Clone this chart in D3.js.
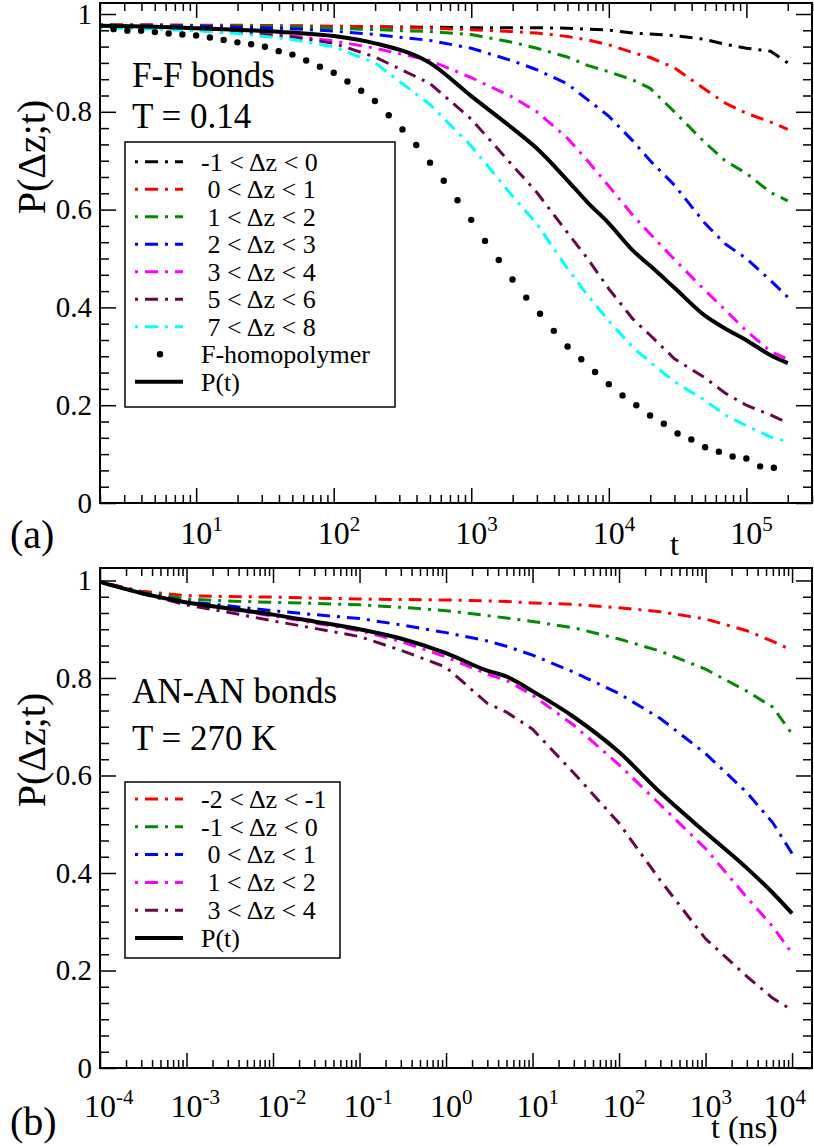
<!DOCTYPE html>
<html>
<head>
<meta charset="utf-8">
<script src="https://cdn.jsdelivr.net/npm/d3@7"></script>
<style>
body { margin: 0; background: #fff; }
</style>
</head>
<body>
<div id="chart"></div>
<script>
// ---- panel (a): F-F bonds, T = 0.14 ----
const tA = [2, 5, 10, 20, 50, 100, 200, 500, 1e3, 2e3, 3e3, 5e3, 7e3, 1e4, 1.5e4, 2e4, 3e4, 5e4, 7e4, 1e5, 1.5e5, 2e5];
const a_m1_0 = [0.976,0.976,0.976,0.975,0.975,0.974,0.974,0.973,0.972,0.972,0.972,0.971,0.969,0.967,0.961,0.959,0.956,0.948,0.938,0.930,0.924,0.900];
const a_0_1  = [0.978,0.978,0.977,0.977,0.976,0.975,0.974,0.971,0.968,0.964,0.961,0.954,0.947,0.937,0.921,0.911,0.890,0.846,0.818,0.797,0.779,0.764];
const a_1_2  = [0.977,0.977,0.976,0.975,0.974,0.971,0.968,0.964,0.958,0.942,0.930,0.912,0.895,0.882,0.865,0.848,0.800,0.737,0.700,0.674,0.635,0.618];
const a_2_3  = [0.977,0.976,0.975,0.973,0.970,0.965,0.958,0.946,0.930,0.904,0.886,0.857,0.825,0.791,0.740,0.700,0.650,0.572,0.530,0.500,0.455,0.421];
const a_3_4  = [0.976,0.975,0.971,0.966,0.955,0.945,0.930,0.905,0.870,0.830,0.800,0.746,0.700,0.648,0.588,0.550,0.498,0.435,0.395,0.352,0.310,0.294];
const a_5_6  = [0.975,0.972,0.968,0.962,0.953,0.940,0.912,0.858,0.785,0.690,0.635,0.553,0.500,0.438,0.376,0.343,0.295,0.256,0.225,0.200,0.180,0.164];
const a_7_8  = [0.972,0.969,0.966,0.960,0.948,0.933,0.900,0.815,0.730,0.627,0.571,0.480,0.425,0.372,0.318,0.288,0.248,0.210,0.180,0.158,0.135,0.125];
const a_Pt   = [0.976,0.974,0.971,0.968,0.962,0.955,0.940,0.900,0.832,0.766,0.725,0.660,0.615,0.572,0.516,0.485,0.440,0.383,0.357,0.333,0.302,0.286];
// F-homopolymer points: log10(t) and value
const homoLogT = [0.4,0.5,0.6,0.7,0.8,0.9,1.0,1.1,1.2,1.3,1.4,1.5,1.6,1.7,1.8,1.9,2.0,2.1,2.2,2.3,2.4,2.5,2.6,2.7,2.8,2.9,3.0,3.1,3.2,3.3,3.4,3.5,3.6,3.7,3.8,3.9,4.0,4.1,4.2,4.3,4.4,4.5,4.6,4.7,4.8,4.9,5.0,5.1,5.2];
const homoP = [0.969,0.966,0.966,0.963,0.960,0.958,0.956,0.952,0.947,0.942,0.938,0.933,0.924,0.917,0.905,0.892,0.880,0.862,0.843,0.822,0.793,0.764,0.732,0.696,0.659,0.619,0.579,0.536,0.497,0.457,0.420,0.387,0.352,0.320,0.294,0.268,0.243,0.220,0.200,0.179,0.162,0.142,0.130,0.114,0.105,0.095,0.091,0.075,0.072];
const namesA = ["-1 < \u0394z < 0", " 0 < \u0394z < 1", " 1 < \u0394z < 2", " 2 < \u0394z < 3", " 3 < \u0394z < 4", " 5 < \u0394z < 6", " 7 < \u0394z < 8"];

// ---- panel (b): AN-AN bonds, T = 270 K ----
const tB = [1e-4, 3e-4, 1e-3, 3e-3, 1e-2, 3e-2, 0.1, 0.3, 1, 3, 5, 10, 30, 100, 300, 1e3, 3e3, 6e3, 1e4];
const b_m2_m1 = [0.997,0.978,0.969,0.967,0.966,0.964,0.962,0.961,0.960,0.958,0.957,0.954,0.951,0.944,0.936,0.921,0.897,0.875,0.857];
const b_m1_0  = [0.997,0.976,0.962,0.958,0.955,0.953,0.950,0.945,0.938,0.928,0.923,0.916,0.903,0.880,0.855,0.818,0.773,0.740,0.685];
const b_0_1   = [0.997,0.975,0.957,0.948,0.938,0.930,0.922,0.909,0.893,0.876,0.865,0.847,0.812,0.768,0.717,0.645,0.565,0.503,0.440];
const b_1_2   = [0.997,0.974,0.953,0.941,0.927,0.913,0.897,0.875,0.843,0.808,0.795,0.765,0.703,0.622,0.540,0.450,0.350,0.290,0.235];
const b_3_4   = [0.997,0.973,0.950,0.935,0.917,0.902,0.885,0.857,0.822,0.748,0.730,0.695,0.605,0.502,0.385,0.265,0.188,0.143,0.119];
const b_Pt    = [0.997,0.974,0.955,0.943,0.930,0.916,0.900,0.881,0.851,0.815,0.803,0.773,0.720,0.648,0.565,0.483,0.410,0.359,0.317];
const namesB = ["-2 < \u0394z < -1", "-1 < \u0394z < 0", " 0 < \u0394z < 1", " 1 < \u0394z < 2", " 3 < \u0394z < 4"];

const colorsA = ["#000000", "#ff0000", "#008b00", "#0000ff", "#ff00ff", "#670748", "#00ffff"];
const colorsB = ["#ff0000", "#008b00", "#0000ff", "#ff00ff", "#670748"];

const svgWidth = 814, svgHeight = 1147;
const svg = d3.select("#chart").append("svg")
  .attr("width", svgWidth).attr("height", svgHeight);

const dashDot = "3,7,13,7";

function txt(g, size) {
  return g.append("text").style("font-family", "Liberation Serif")
    .style("font-size", size + "px").attr("fill", "#000");
}

function drawPanel(p) {
  let g = svg.append("g");
  let x = p.x, y = p.y;
  let [x0, x1] = x.range(), [y0, y1] = y.range();

  // ticks
  let allX = x.ticks();
  let majX = allX.filter(d => Math.abs(Math.log10(d) - Math.round(Math.log10(d))) < 1e-9);
  let minX = allX.filter(d => majX.indexOf(d) < 0);
  let majY = [0, 0.2, 0.4, 0.6, 0.8, 1];
  let minY = d3.range(0, 1.03, 0.2 / 6).filter(d => d < y.domain()[1] && majY.every(m => Math.abs(m - d) > 1e-6));

  let axes = [
    [d3.axisBottom(x).tickValues(majX).tickSizeInner(-15), "translate(0," + y0 + ")"],
    [d3.axisBottom(x).tickValues(minX).tickSizeInner(-8), "translate(0," + y0 + ")"],
    [d3.axisTop(x).tickValues(majX).tickSizeInner(-15), "translate(0," + y1 + ")"],
    [d3.axisTop(x).tickValues(minX).tickSizeInner(-8), "translate(0," + y1 + ")"],
    [d3.axisLeft(y).tickValues(majY).tickSizeInner(-16), "translate(" + x0 + ",0)"],
    [d3.axisLeft(y).tickValues(minY).tickSizeInner(-9), "translate(" + x0 + ",0)"],
    [d3.axisRight(y).tickValues(majY).tickSizeInner(-16), "translate(" + x1 + ",0)"],
    [d3.axisRight(y).tickValues(minY).tickSizeInner(-9), "translate(" + x1 + ",0)"]
  ];
  axes.forEach(function(a) {
    let ag = g.append("g").attr("transform", a[1])
      .call(a[0].tickSizeOuter(0).tickFormat(""));
    ag.select(".domain").remove();
    ag.selectAll("line").attr("stroke", "#000").attr("stroke-width", 1.5);
  });

  // y tick labels
  majY.forEach(function(d) {
    txt(g, 29).attr("x", x0 - 8).attr("y", y(d)).attr("dy", "0.33em")
      .attr("text-anchor", "end")
      .text((d === 0 || d === 1) ? String(d) : d.toFixed(1));
  });

  // x tick labels 10^n
  majX.forEach(function(d) {
    let t = txt(g, 32).attr("x", x(d) - 16).attr("y", p.xLabY);
    t.append("tspan").text("10");
    t.append("tspan").attr("dy", -13).style("font-size", "21px").text(Math.round(Math.log10(d)));
    let w = t.node().getComputedTextLength();
    if (x(d) - 16 + w > svgWidth - 8) t.attr("x", svgWidth - 8 - w);
  });

  // curves
  let line = d3.line().x(d => x(d[0])).y(d => y(d[1]));
  p.series.forEach(function(s, i) {
    g.append("path").datum(p.t.map((tt, k) => [tt, s[k]]))
      .attr("d", line).attr("fill", "none")
      .attr("stroke", p.colors[i]).attr("stroke-width", 3)
      .attr("stroke-dasharray", dashDot);
  });
  if (p.dots) {
    g.selectAll(".dot").data(p.dots).enter().append("circle")
      .attr("cx", d => x(d[0])).attr("cy", d => y(d[1])).attr("r", 3.2).attr("fill", "#000");
  }
  g.append("path").datum(p.t.map((tt, k) => [tt, p.total[k]]))
    .attr("d", line.curve(d3.curveMonotoneX)).attr("fill", "none").attr("stroke", "#000").attr("stroke-width", 4);

  // frame
  g.append("rect").attr("x", x0).attr("y", y1).attr("width", x1 - x0).attr("height", y0 - y1)
    .attr("fill", "none").attr("stroke", "#000").attr("stroke-width", 2);

  // labels
  txt(g, 40).attr("transform", "translate(" + p.yLabX + "," + p.yLabY + ") rotate(-90)")
    .attr("text-anchor", "middle").text("P(\u0394z;t)");
  txt(g, 32).attr("x", p.xTitle[0]).attr("y", p.xTitle[1]).text(p.xTitleText);
  txt(g, 40).attr("x", 10).attr("y", p.tagY).text(p.tag);
  p.notes.forEach(function(n) {
    txt(g, 35).attr("x", 132).attr("y", n[1]).text(n[0]);
  });

  // legend
  let lg = p.legend;
  g.append("rect").attr("x", lg.x).attr("y", lg.y).attr("width", lg.w).attr("height", lg.h)
    .attr("fill", "#fff").attr("stroke", "#000").attr("stroke-width", 1.5);
  let rows = p.names.map((n, i) => ({name: n, color: p.colors[i], kind: "dd"}));
  if (p.dots) rows.push({name: "F-homopolymer", color: "#000", kind: "dot"});
  rows.push({name: "P(t)", color: "#000", kind: "solid"});
  rows.forEach(function(r, i) {
    let cy = lg.y + lg.first + i * lg.step;
    if (r.kind === "dot") {
      g.append("circle").attr("cx", 160).attr("cy", cy).attr("r", 3.2).attr("fill", "#000");
    } else {
      g.append("line").attr("x1", 135).attr("x2", 183).attr("y1", cy).attr("y2", cy)
        .attr("stroke", r.color).attr("stroke-width", r.kind === "solid" ? 4 : 3)
        .attr("stroke-dasharray", r.kind === "solid" ? null : dashDot);
    }
    txt(g, 26).attr("x", 201).attr("y", cy).attr("dy", "0.34em")
      .style("white-space", "pre").text(r.name);
  });
}

drawPanel({
  x: d3.scaleLog().domain([2, 3e5]).range([100, 812]),
  y: d3.scaleLinear().domain([0, 1.0225]).range([503, 3]),
  t: tA,
  series: [a_m1_0, a_0_1, a_1_2, a_2_3, a_3_4, a_5_6, a_7_8],
  total: a_Pt,
  dots: homoLogT.map((e, i) => [Math.pow(10, e), homoP[i]]),
  colors: colorsA,
  names: namesA,
  xLabY: 544,
  xTitle: [670, 555], xTitleText: "t",
  tag: "(a)", tagY: 548,
  yLabX: 45, yLabY: 157,
  notes: [["F-F bonds", 87], ["T = 0.14", 128]],
  legend: {x: 125, y: 142, w: 270, h: 265, first: 19.7, step: 27.5}
});

drawPanel({
  x: d3.scaleLog().domain([1e-4, 1.7e4]).range([100, 812]),
  y: d3.scaleLinear().domain([0, 1.0256]).range([1068, 568]),
  t: tB,
  series: [b_m2_m1, b_m1_0, b_0_1, b_1_2, b_3_4],
  total: b_Pt,
  dots: null,
  colors: colorsB,
  names: namesB,
  xLabY: 1117,
  xTitle: [711, 1138], xTitleText: "t (ns)",
  tag: "(b)", tagY: 1135,
  yLabX: 45, yLabY: 750,
  notes: [["AN-AN bonds", 703], ["T = 270 K", 750]],
  legend: {x: 125, y: 782, w: 215, h: 176, first: 17, step: 27.8}
});
</script>
</body>
</html>
